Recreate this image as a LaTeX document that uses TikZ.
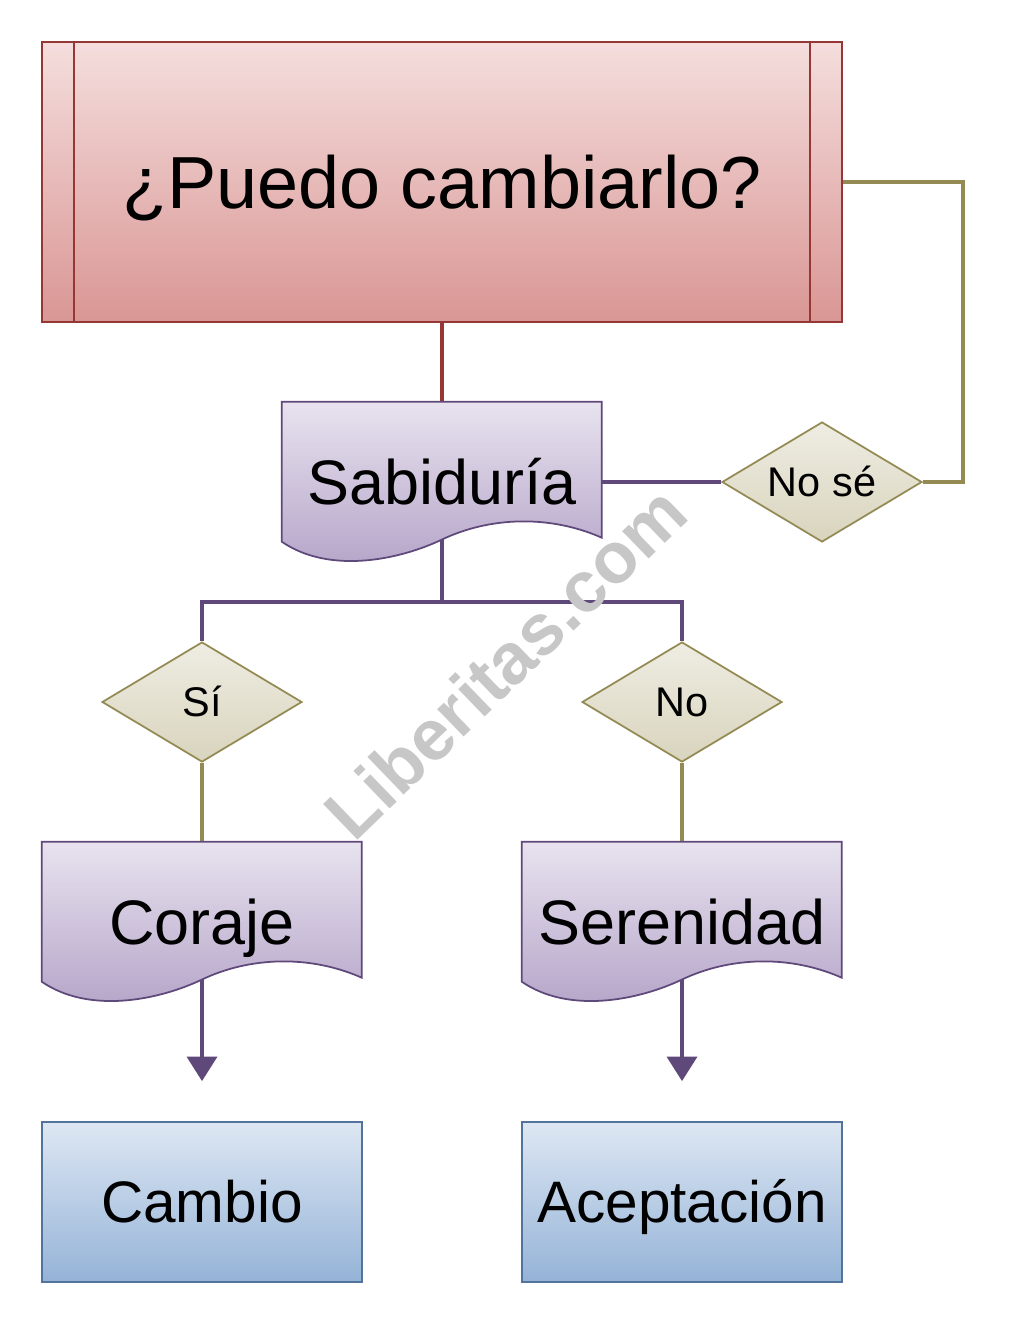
\documentclass[tikz,border=0pt]{standalone}
\usepackage{fontspec}
\setmainfont{Liberation Sans}
\usetikzlibrary{arrows.meta, positioning, shapes.geometric, calc}

\definecolor{askline}{HTML}{953735}
\definecolor{asktop}{HTML}{F4DEDD}
\definecolor{askbottom}{HTML}{D99694}
\definecolor{docline}{HTML}{5F497A}
\definecolor{doctop}{HTML}{E8E3EF}
\definecolor{docbottom}{HTML}{B3A2C7}
\definecolor{choiceline}{HTML}{948A54}
\definecolor{choicetop}{HTML}{EFEDE3}
\definecolor{choicebottom}{HTML}{D8D4BD}
\definecolor{resultline}{HTML}{52749C}
\definecolor{resulttop}{HTML}{DDE7F3}
\definecolor{resultbottom}{HTML}{95B3D7}

\pgfdeclarelayer{lines}
\pgfdeclarelayer{shapes}
\pgfsetlayers{lines,shapes,main}

% contorno de documento (borde inferior ondulado) bajo un nodo doc
\newcommand{\docoutline}[1]{%
  \begin{pgfonlayer}{shapes}
    \shade[docshade, shift={(#1.north west)}]
      (0,0) -- (320,0) -- (320,136)
      .. controls (268,113) and (208,115) .. (160,138)
      .. controls (118,158) and (48,173) .. (0,140) -- cycle;
  \end{pgfonlayer}}

\begin{document}
\begin{tikzpicture}[
        x=0.02cm, y=-0.02cm,
        ask/.style={rectangle, draw=askline, line width=1pt, top color=asktop, bottom color=askbottom,
            minimum width=16cm, minimum height=5.6cm, text height=30pt, text depth=0pt,
            font=\fontsize{42}{50}\selectfont},
        doc/.style={rectangle, minimum width=6.4cm, minimum height=3.2cm,
            text height=25.6pt, text depth=0pt, font=\fontsize{35.8}{43}\selectfont},
        docshade/.style={draw=docline, line width=1pt, top color=doctop, bottom color=docbottom},
        choice/.style={diamond, draw=choiceline, line width=1pt, top color=choicetop, bottom color=choicebottom,
            minimum width=4cm, minimum height=2.4cm, aspect=1.667, inner sep=0pt,
            text height=17pt, text depth=0pt, font=\fontsize{23.6}{28}\selectfont},
        result/.style={rectangle, draw=resultline, line width=1pt, top color=resulttop, bottom color=resultbottom,
            minimum width=6.4cm, minimum height=3.2cm, text height=23.8pt, text depth=0pt,
            font=\fontsize{33.3}{40}\selectfont},
        asklink/.style={draw=askline, line width=2.4pt},
        doclink/.style={draw=docline, line width=2.4pt},
        choicelink/.style={draw=choiceline, line width=2.4pt},
        arrowlink/.style={doclink, -{Triangle[length=14pt, width=17pt]}, shorten >=0.8cm},
        watermark/.style={text=black!22, font=\fontsize{41}{49}\selectfont\bfseries}
    ]
        \useasboundingbox (0,0) rectangle (1008,1324);

        % Nodos
        \node[ask] (ask) at (442,182) {¿Puedo cambiarlo?};
        \node[doc] (sab) at (442,482) {Sabiduría};
        \node[choice] (nose) at (822,482) {No sé};
        \node[choice] (si) at (202,702) {Sí};
        \node[choice] (no) at (682,702) {No};
        \node[doc] (coraje) at (202,922) {Coraje};
        \node[doc] (seren) at (682,922) {Serenidad};
        \node[result] (cambio) at (202,1202) {Cambio};
        \node[result] (acept) at (682,1202) {Aceptación};
        \coordinate (split) at (442,602);

        % Bordes del proceso predefinido
        \draw[askline, line width=1pt] ($(ask.north west)+(33,0)$) -- ($(ask.south west)+(33,0)$);
        \draw[askline, line width=1pt] ($(ask.north east)+(-33,0)$) -- ($(ask.south east)+(-33,0)$);

        % Documentos
        \docoutline{sab}
        \docoutline{coraje}
        \docoutline{seren}

        % Conectores
        \begin{pgfonlayer}{lines}
            \draw[asklink] (ask.south) -- (sab.center);
            \draw[doclink] (sab.center) -- (nose);
            \draw[choicelink] (ask.east) -- ++(120,0) |- (nose.east);
            \draw[doclink] (sab.center) -- (split);
            \draw[doclink] (split) -| (si.north);
            \draw[doclink] (split) -| (no.north);
            \draw[choicelink] (si) -- (coraje.center);
            \draw[choicelink] (no) -- (seren.center);
            \draw[arrowlink] (coraje.center) -- (cambio.north);
            \draw[arrowlink] (seren.center) -- (acept.north);
        \end{pgfonlayer}

        % Marca de agua
        \node[watermark, rotate=44] (mark) at (505,662) {Liberitas.com};
    \end{tikzpicture}
\end{document}
